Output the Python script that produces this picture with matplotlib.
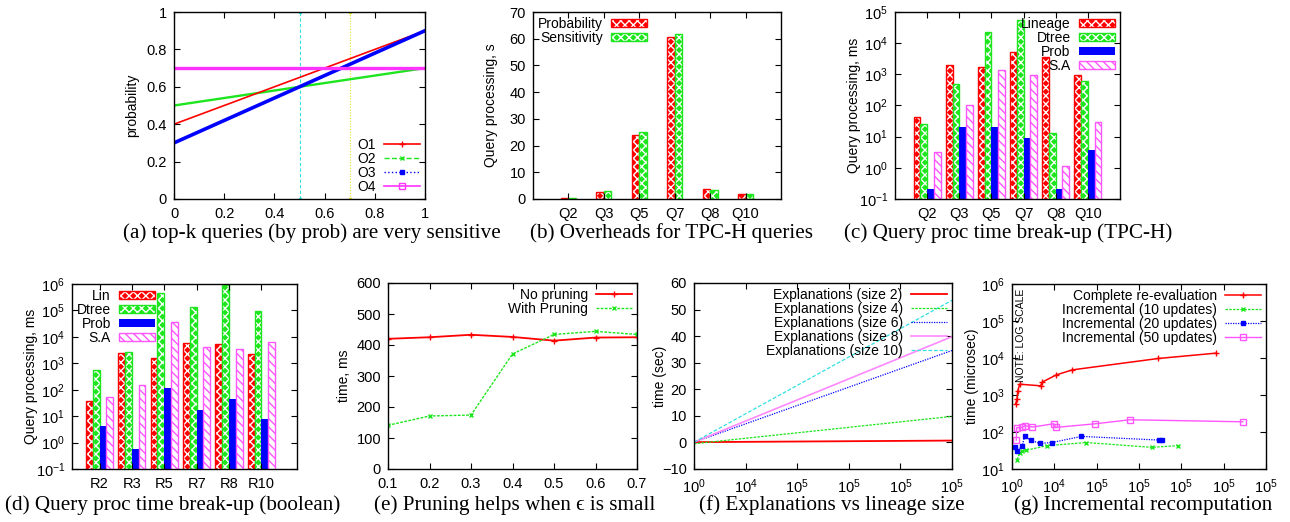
# Recreate a grid of seven gnuplot-style panels
import matplotlib
matplotlib.use("Agg")
import matplotlib.pyplot as plt
from matplotlib.ticker import NullLocator, FixedLocator
from matplotlib.lines import Line2D
from matplotlib.patches import Patch

plt.rcParams['font.family'] = ['Liberation Sans', 'DejaVu Sans']
plt.rcParams['font.size'] = 9
plt.rcParams['mathtext.fontset'] = 'custom'
plt.rcParams['mathtext.rm'] = 'Liberation Sans'
plt.rcParams['mathtext.it'] = 'Liberation Sans:italic'
plt.rcParams['hatch.linewidth'] = 1.0

# ---------------- data ----------------
# (a) probability of each object vs threshold
probX = [0, 1]
o1Prob = [0.4, 0.9]
o2Prob = [0.5, 0.7]
o3Prob = [0.3, 0.9]
o4Prob = [0.7, 0.7]
cutoffX = [0.5, 0.7]

# (b) overheads for TPC-H queries (s)
tpchQueries = ["Q2", "Q3", "Q5", "Q7", "Q8", "Q10"]
probabilitySec = [0.2, 2.7, 24.0, 60.8, 3.6, 1.8]
sensitivitySec = [0.2, 2.9, 25.2, 61.8, 3.5, 1.8]

# (c) time break-up, TPC-H (ms)
tpchLineage = [42, 2040, 1740, 5200, 3600, 970]
tpchDtree = [26, 490, 23000, 57000, 13, 630]
tpchProb = [0.21, 20, 20, 9.1, 0.21, 3.8]
tpchSA = [3.2, 100, 1380, 950, 1.15, 29]

# (d) time break-up, boolean (ms)
boolQueries = ["R2", "R3", "R5", "R7", "R8", "R10"]
boolLin = [38, 2450, 1540, 5900, 5400, 2240]
boolDtree = [570, 2700, 450000, 135000, 940000, 98000]
boolProb = [4.1, 0.59, 120, 17.5, 46, 8]
boolSA = [51, 155, 36000, 4150, 3550, 6300]

# (e) pruning vs epsilon (ms)
epsilons = [0.1, 0.2, 0.3, 0.4, 0.5, 0.6, 0.7]
noPruning = [420, 425, 433, 426, 414, 424, 425]
withPruning = [141, 171, 174, 371, 434, 444, 434]

# (f) explanations vs lineage size (sec), x in tick slots
lineageSlots = [0, 5]
lineageLabels = ['$10^0$', '$10^4$', '$10^5$', '$10^5$', '$10^5$', '$10^5$']
explSize2 = [0.1, 0.7]
explSize4 = [-0.5, 9.8]
explSize6 = [0.1, 34.6]
explSize8 = [0.1, 39.8]
explSize10 = [0.1, 53.5]

# (g) incremental recomputation (microsec), x in tick slots
recompLabels = ['$10^0$', '$10^4$', '$10^5$', '$10^5$', '$10^5$', '$10^5$', '$10^5$']
completeX = [0.087, 0.118, 0.134, 0.181, 0.678, 0.710, 1.049, 1.427, 3.454, 4.811]
completeY = [580, 773, 1245, 1960, 1770, 2220, 3500, 4780, 9700, 13500]
inc10X = [0.118, 0.181, 0.229, 0.323, 0.828, 1.759, 3.297, 3.912]
inc10Y = [17.9, 27, 30, 32, 42.7, 52, 38.5, 42.7]
inc20X = [0.079, 0.118, 0.237, 0.300, 0.442, 0.655, 0.946, 1.640, 3.478, 3.533]
inc20Y = [39, 31, 41, 76, 60.5, 49, 52, 76, 60.5, 60.5]
inc50X = [0.102, 0.110, 0.237, 0.315, 0.481, 0.986, 1.033, 1.972, 2.784, 5.450]
inc50Y = [60.5, 130, 133, 148, 136, 167, 133, 167, 214, 189]

# ---------------- colours ----------------
RED = '#ff0000'
GREEN = '#1ee61e'
BLUE = '#0000ff'
PINK = '#ff55ff'
CYAN = '#33e0e0'
YELLOW = '#e0e020'

W, H = 1290, 522
fig = plt.figure(figsize=(W / 100, H / 100), dpi=100)


# Make an axes from pixel box (left, top, right, bottom)
def pixAxes(left, top, right, bottom):
    return fig.add_axes([left / W, 1 - bottom / H, (right - left) / W, (bottom - top) / H])


# gnuplot look: inward ticks on all four sides
def gnuplotTicks(ax):
    ax.tick_params(direction='in', top=True, right=True, length=4, width=0.8, labelsize=10.5)
    ax.tick_params(axis='x', pad=6)
    ax.tick_params(axis='y', pad=5)
    for s in ax.spines.values():
        s.set_linewidth(1.0)


def ylabelAt(ax, text, xPix, axBox):
    ax.set_ylabel(text, fontsize=10)
    left, top, right, bottom = axBox
    ax.yaxis.set_label_coords((xPix + 6 - left) / (right - left), 0.5)


def caption(text, xPix, yPix):
    fig.text(xPix / W, 1 - yPix / H, text, ha='center', va='center', fontsize=15.2,
             family=['Liberation Serif', 'DejaVu Serif'])


# one bar series in gnuplot pattern style, returns legend handle
def patternBars(ax, x, heights, width, kind):
    if kind == 'red' or kind == 'green':
        col = RED if kind == 'red' else GREEN
        ax.bar(x, heights, width, color=col, edgecolor='white', hatch='xxxx', linewidth=0)
        ax.bar(x, heights, width, fill=False, edgecolor=col, linewidth=1.0)
        return (Patch(facecolor=col, edgecolor='white', hatch='xxxx', linewidth=0),
                Patch(fill=False, edgecolor=col, linewidth=1.0))
    if kind == 'blue':
        ax.bar(x, heights, width, color=BLUE, linewidth=0)
        return Patch(facecolor=BLUE, linewidth=0)
    ax.bar(x, heights, width, color='white', edgecolor=PINK, hatch='\\\\\\\\', linewidth=0)
    ax.bar(x, heights, width, fill=False, edgecolor=PINK, linewidth=1.0)
    return (Patch(facecolor='white', edgecolor=PINK, hatch='\\\\\\\\', linewidth=0),
            Patch(fill=False, edgecolor=PINK, linewidth=1.0))


def gnuLegend(ax, handles, labels, loc):
    ax.legend(handles, labels, loc=loc, frameon=False, markerfirst=False, fontsize=10,
              handlelength=2.6, handleheight=0.6, labelspacing=0.0, handletextpad=0.6,
              borderaxespad=0.25, borderpad=0.1)


# ---------------- (a) ----------------
boxA = (174, 12, 425, 199)
axA = pixAxes(*boxA)
axA.plot(cutoffX[:1] * 2, [0, 1], color=CYAN, ls=(0, (3, 2)), lw=0.8, marker='s', ms=2)
axA.plot(cutoffX[1:] * 2, [0, 1], color=YELLOW, ls=(0, (1, 1.5)), lw=0.8, marker='s', ms=2)
axA.plot(probX, o2Prob, color=GREEN, lw=1.7)
axA.plot(probX, o1Prob, color=RED, lw=1.2)
axA.plot(probX, o3Prob, color=BLUE, lw=2.6)
axA.plot(probX, o4Prob, color='#ff33ff', lw=2.4)
axA.set_xlim(0, 1)
axA.set_ylim(0, 1)
axA.set_xticks([0, 0.2, 0.4, 0.6, 0.8, 1])
axA.set_xticklabels(['0', '0.2', '0.4', '0.6', '0.8', '1'])
axA.set_yticks([0, 0.2, 0.4, 0.6, 0.8, 1])
axA.set_yticklabels(['0', '0.2', '0.4', '0.6', '0.8', '1'])
gnuplotTicks(axA)
ylabelAt(axA, 'probability', 133, boxA)
handlesA = [Line2D([], [], color=RED, lw=1.2, marker='+', ms=4),
            Line2D([], [], color=GREEN, lw=1, ls='--', marker='x', ms=3),
            Line2D([], [], color=BLUE, lw=1, ls=':', marker='s', ms=3),
            Line2D([], [], color='#ff33ff', lw=1.2, marker='s', ms=4, mfc='none')]
gnuLegend(axA, handlesA, ['O1', 'O2', 'O3', 'O4'], 'lower right')
caption('(a) top-k queries (by prob) are very sensitive', 312, 233)

# ---------------- (b) ----------------
boxB = (533, 12, 781, 199)
axB = pixAxes(*boxB)
pos = list(range(len(tpchQueries)))
bw = 0.21
hB1 = patternBars(axB, [p - bw / 2 for p in pos], probabilitySec, bw, 'red')
hB2 = patternBars(axB, [p + bw / 2 for p in pos], sensitivitySec, bw, 'green')
axB.set_xlim(-1, 6)
axB.set_ylim(0, 70)
axB.set_xticks(pos)
axB.set_xticklabels(tpchQueries)
axB.set_yticks(range(0, 71, 10))
gnuplotTicks(axB)
ylabelAt(axB, 'Query processing, s', 492, boxB)
gnuLegend(axB, [hB1, hB2], ['Probability', 'Sensitivity'], 'upper left')
caption('(b) Overheads for TPC-H queries', 672, 233)


# four-series log histogram used by (c) and (d)
def logHistogram(ax, names, series, kinds, ymax, xlim):
    pos = list(range(len(names)))
    bw = 0.21
    handles = []
    for i, (vals, kind) in enumerate(zip(series, kinds)):
        off = (i - 1.5) * bw
        handles.append(patternBars(ax, [p + off for p in pos], vals, bw, kind))
    ax.set_yscale('log')
    ax.set_ylim(0.1, ymax)
    ax.set_xlim(*xlim)
    ax.set_xticks(pos)
    ax.set_xticklabels(names)
    ax.yaxis.set_minor_locator(NullLocator())
    gnuplotTicks(ax)
    return handles


kinds4 = ['red', 'green', 'blue', 'pink']

# ---------------- (c) ----------------
boxC = (895, 12, 1120, 199)
axC = pixAxes(*boxC)
hC = logHistogram(axC, tpchQueries, [tpchLineage, tpchDtree, tpchProb, tpchSA], kinds4,
                  1e5, (-1, 6))
ylabelAt(axC, 'Query processing, ms', 855, boxC)
gnuLegend(axC, hC, ['Lineage', 'Dtree', 'Prob', 'S.A'], 'upper right')
caption('(c) Query proc time break-up (TPC-H)', 1008, 233)

# ---------------- (d) ----------------
boxD = (72, 284, 297, 469)
axD = pixAxes(*boxD)
hD = logHistogram(axD, boolQueries, [boolLin, boolDtree, boolProb, boolSA], kinds4,
                  1e6, (-0.85, 6.1))
ylabelAt(axD, 'Query processing, ms', 32, boxD)
gnuLegend(axD, hD, ['Lin', 'Dtree', 'Prob', 'S.A'], 'upper left')
caption('(d) Query proc time break-up (boolean)', 173, 505)

# ---------------- (e) ----------------
boxE = (388, 283, 637, 469)
axE = pixAxes(*boxE)
lnE1, = axE.plot(epsilons, noPruning, color=RED, lw=1.3, marker='+', ms=4)
lnE2, = axE.plot(epsilons, withPruning, color=GREEN, lw=1.0, ls=(0, (2, 1)), marker='x', ms=3)
axE.set_xlim(0.1, 0.7)
axE.set_ylim(0, 600)
axE.set_xticks(epsilons)
axE.set_yticks(range(0, 601, 100))
gnuplotTicks(axE)
ylabelAt(axE, 'time, ms', 345, boxE)
gnuLegend(axE, [lnE1, lnE2], ['No pruning', 'With Pruning'], 'upper right')
caption('(e) Pruning helps when \u03f5 is small', 515, 505)

# ---------------- (f) ----------------
boxF = (694, 283, 952, 469)
axF = pixAxes(*boxF)
fLines = [axF.plot(lineageSlots, explSize2, color=RED, lw=1.3)[0],
          axF.plot(lineageSlots, explSize4, color=GREEN, lw=0.9, ls=(0, (2, 1)))[0],
          axF.plot(lineageSlots, explSize6, color=BLUE, lw=0.9, ls=(0, (1, 1)))[0],
          axF.plot(lineageSlots, explSize8, color='#ff88ff', lw=1.2)[0],
          axF.plot(lineageSlots, explSize10, color=CYAN, lw=0.9, ls=(0, (3, 1.5)))[0]]
axF.set_xlim(0, 5)
axF.set_ylim(-10, 60)
axF.xaxis.set_major_locator(FixedLocator(range(len(lineageLabels))))
axF.set_xticklabels(lineageLabels)
axF.set_yticks(range(-10, 61, 10))
gnuplotTicks(axF)
ylabelAt(axF, 'time (sec)', 661, boxF)
gnuLegend(axF, fLines, ['Explanations (size 2)', 'Explanations (size 4)', 'Explanations (size 6)',
                        'Explanations (size 8)', 'Explanations (size 10)'], 'upper right')
caption('(f) Explanations vs lineage size', 832, 505)

# ---------------- (g) ----------------
boxG = (1012, 284, 1266, 469)
axG = pixAxes(*boxG)
gLines = [axG.plot(completeX, completeY, color=RED, lw=1.1, marker='+', ms=4)[0],
          axG.plot(inc10X, inc10Y, color=GREEN, lw=0.9, ls=(0, (2, 1)), marker='x', ms=3)[0],
          axG.plot(inc20X, inc20Y, color=BLUE, lw=0.9, ls=(0, (1, 1)), marker='s', ms=3)[0],
          axG.plot(inc50X, inc50Y, color='#ff55ff', lw=1.0, marker='s', ms=4, mfc='none')[0]]
axG.set_yscale('log')
axG.set_ylim(10, 1e6)
axG.set_xlim(0, 6)
axG.xaxis.set_major_locator(FixedLocator(range(len(recompLabels))))
axG.set_xticklabels(recompLabels)
axG.yaxis.set_minor_locator(NullLocator())
gnuplotTicks(axG)
ylabelAt(axG, 'time (microsec)', 973, boxG)
axG.text(0.035, 0.72, 'NOTE: LOG SCALE', transform=axG.transAxes, rotation=90,
         ha='center', va='center', fontsize=7.5)
gnuLegend(axG, gLines, ['Complete re-evaluation', 'Incremental (10 updates)',
                        'Incremental (20 updates)', 'Incremental (50 updates)'], 'upper right')
caption('(g) Incremental recomputation', 1143, 505)

fig.savefig('out.png', dpi=100)
